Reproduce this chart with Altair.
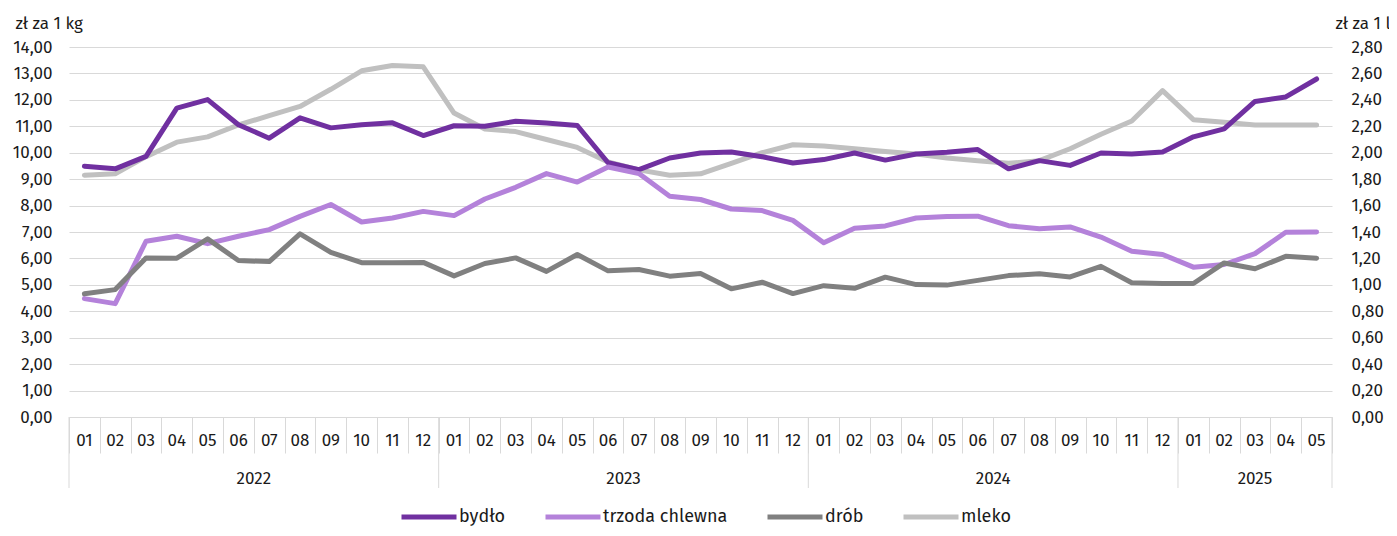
import altair as alt
import pandas as pd

# ---------------- data ----------------
months = ["01", "02", "03", "04", "05", "06", "07", "08", "09", "10", "11", "12"] * 3 + ["01", "02", "03", "04", "05"]
years = ["2022"] * 12 + ["2023"] * 12 + ["2024"] * 12 + ["2025"] * 5

bydlo = [9.49, 9.39, 9.86, 11.69, 12.01, 11.06, 10.55, 11.32, 10.94, 11.06, 11.13, 10.65,
         11.02, 11.00, 11.19, 11.12, 11.03, 9.62, 9.36, 9.80, 9.99, 10.03, 9.85, 9.61,
         9.74, 9.99, 9.72, 9.95, 10.02, 10.12, 9.39, 9.70, 9.52, 9.99, 9.95, 10.03,
         10.60, 10.90, 11.94, 12.11, 12.79]
trzoda = [4.48, 4.29, 6.65, 6.84, 6.56, 6.84, 7.09, 7.59, 8.04, 7.38, 7.53, 7.78,
          7.62, 8.25, 8.69, 9.21, 8.89, 9.46, 9.21, 8.35, 8.23, 7.87, 7.81, 7.44,
          6.59, 7.14, 7.23, 7.53, 7.59, 7.60, 7.24, 7.12, 7.19, 6.81, 6.27, 6.15,
          5.67, 5.77, 6.18, 6.99, 7.00]
drob = [4.66, 4.82, 6.02, 6.01, 6.74, 5.92, 5.88, 6.93, 6.23, 5.84, 5.84, 5.85,
        5.34, 5.81, 6.02, 5.51, 6.15, 5.53, 5.58, 5.33, 5.43, 4.85, 5.10, 4.67,
        4.97, 4.87, 5.29, 5.01, 4.99, 5.17, 5.35, 5.42, 5.30, 5.70, 5.08, 5.05,
        5.05, 5.83, 5.61, 6.08, 6.01]
mleko = [1.83, 1.84, 1.97, 2.08, 2.12, 2.21, 2.28, 2.35, 2.48, 2.62, 2.66, 2.65,
         2.30, 2.18, 2.16, 2.10, 2.04, 1.93, 1.87, 1.83, 1.84, 1.92, 2.00, 2.06,
         2.05, 2.03, 2.01, 1.99, 1.96, 1.94, 1.92, 1.94, 2.03, 2.14, 2.24, 2.47,
         2.25, 2.23, 2.21, 2.21, 2.21]

series_names = ["bydło", "trzoda chlewna", "drób", "mleko"]
series_colors = ["#7030A0", "#B482DA", "#808080", "#C0C0C0"]
series_widths = [5, 5, 5, 3.5]

left_axis_values = list(range(0, 15))
right_axis_values = [round(0.2 * i, 1) for i in range(15)]

# ---------------- tables ----------------
n = len(months)
rows = []
for name, vals in [("bydło", bydlo), ("trzoda chlewna", trzoda), ("drób", drob)]:
    for i, v in enumerate(vals):
        rows.append({"pos": i + 0.5, "series": name, "value": v})
left_df = pd.DataFrame(rows)
milk_df = pd.DataFrame({"pos": [i + 0.5 for i in range(n)], "series": "mleko", "value": mleko})
month_df = pd.DataFrame({"pos": [i + 0.5 for i in range(n)], "label": months})

year_order = []
for y in years:
    if y not in year_order:
        year_order.append(y)
starts, ys, centers = [], [], []
acc = 0
for y in year_order:
    c = years.count(y)
    starts.append(acc)
    centers.append(acc + c / 2)
    ys.append(y)
    acc += c
year_df = pd.DataFrame({"pos": centers, "label": ys})
sep_df = pd.DataFrame({"pos": starts + [n]})

# ---------------- chart ----------------
W, H = 1263, 370
FONT = "Fira Sans, Noto Sans, sans-serif"
TXT = "#1a1a1a"
GRID = "#D9D9D9"

xscale = alt.Scale(domain=[0, n], nice=False, zero=False)
xenc = alt.X("pos:Q", scale=xscale,
             axis=alt.Axis(values=list(range(n + 1)), labels=False, tickSize=36,
                           tickColor=GRID, tickWidth=1, domainColor=GRID, domainWidth=1,
                           grid=False, title=None))

fmt = "replace(format(datum.value, '.2f'), '.', ',')"

color = alt.Color("series:N", scale=alt.Scale(domain=series_names, range=series_colors),
                  legend=alt.Legend(title=None))
swidth = alt.StrokeWidth("series:N", scale=alt.Scale(domain=series_names, range=series_widths),
                         legend=alt.Legend(title=None))

left_lines = alt.Chart(left_df).mark_line(strokeCap="round", strokeJoin="round").encode(
    x=xenc,
    y=alt.Y("value:Q", scale=alt.Scale(domain=[0, 14], nice=False),
            axis=alt.Axis(values=left_axis_values, labelExpr=fmt, title="zł za 1 kg", titleAngle=0,
                          titleAlign="left", titleBaseline="middle", titleX=-54, titleY=-24,
                          titleFont=FONT, titleFontSize=17, titleFontWeight="normal", titleColor=TXT,
                          grid=True, gridColor=GRID, gridWidth=1, domain=False, ticks=False,
                          labelPadding=17, labelFontSize=17, labelFont=FONT, labelColor=TXT)),
    color=color,
    strokeWidth=swidth,
    detail="series:N",
)

milk_lines = alt.Chart(milk_df).mark_line(strokeCap="round", strokeJoin="round").encode(
    x=xenc,
    y=alt.Y("value:Q", scale=alt.Scale(domain=[0, 2.8], nice=False),
            axis=alt.Axis(orient="right", values=right_axis_values, labelExpr=fmt, title="zł za 1 l",
                          titleAngle=0, titleAlign="left", titleBaseline="middle", titleX=3, titleY=-24,
                          titleFont=FONT, titleFontSize=17, titleFontWeight="normal", titleColor=TXT,
                          grid=False, domain=False, ticks=False, labelAlign="left",
                          labelPadding=19, labelFontSize=17, labelFont=FONT, labelColor=TXT)),
    color=color,
    strokeWidth=swidth,
)

month_text = alt.Chart(month_df).mark_text(font=FONT, fontSize=17, color=TXT, baseline="middle").encode(
    x=xenc, y=alt.value(H + 24), text="label:N")
year_text = alt.Chart(year_df).mark_text(font=FONT, fontSize=17, color=TXT, baseline="middle").encode(
    x=xenc, y=alt.value(H + 62), text="label:N")
year_rules = alt.Chart(sep_df).mark_rule(color=GRID, strokeWidth=1).encode(
    x=xenc, y=alt.value(H), y2=alt.value(H + 71))

chart = alt.layer(milk_lines, left_lines, month_text, year_text, year_rules).resolve_scale(
    y="independent"
).properties(
    width=W, height=H,
    autosize=alt.AutoSizeParams(type="none"),
    padding={"left": 61, "top": 39, "right": 57, "bottom": 111},
    background="white",
).configure_view(stroke=None).configure_legend(
    orient="none", legendX=330, legendY=440, direction="horizontal",
    symbolType="stroke", symbolSize=3025, labelFontSize=18, labelFont=FONT,
    labelColor=TXT, labelOffset=0, columnPadding=29, padding=0, titlePadding=0,
)

chart.save("out.html", embed_options={"renderer": "svg", "actions": False})
